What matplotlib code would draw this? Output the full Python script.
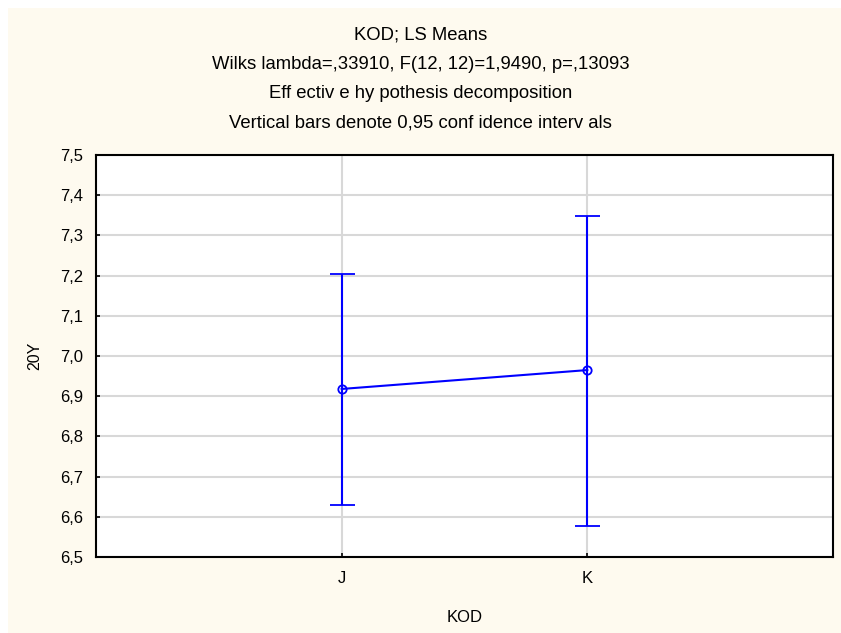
import matplotlib
matplotlib.use("Agg")
import matplotlib.pyplot as plt
from matplotlib.patches import Rectangle

# data
groups = ["J", "K"]
means = [6.918, 6.965]
ci_low = [6.629, 6.578]
ci_high = [7.205, 7.348]
yticks = [6.5, 6.6, 6.7, 6.8, 6.9, 7.0, 7.1, 7.2, 7.3, 7.4, 7.5]

titles = [
    "KOD; LS Means",
    "Wilks lambda=,33910, F(12, 12)=1,9490, p=,13093",
    "Eff ectiv e hy pothesis decomposition",
    "Vertical bars denote 0,95 conf idence interv als",
]

plt.rcParams["font.family"] = ["Liberation Sans", "DejaVu Sans"]
narrow = ["Liberation Sans Narrow", "Liberation Sans", "DejaVu Sans"]

fig = plt.figure(figsize=(8.41, 6.33), dpi=100)
fig.patch.set_facecolor("white")
fig.patches.append(Rectangle((8 / 841, 0), 1, 1 - 8 / 633, transform=fig.transFigure,
                             facecolor="#fefaef", edgecolor="none", zorder=-10))

ax = fig.add_axes([96 / 841, 1 - 557 / 633, 737 / 841, 402 / 633])
ax.set_facecolor("white")

xs = [1, 2]
err = [[m - lo for m, lo in zip(means, ci_low)], [hi - m for m, hi in zip(means, ci_high)]]
ax.errorbar(xs, means, yerr=err, color="#0000ff", lw=1.5, capsize=9, capthick=1.5,
            marker="o", markersize=6, markerfacecolor="none", markeredgewidth=1.3, zorder=3)

ax.set_xlim(0, 3)
ax.set_ylim(6.5, 7.5)
ax.set_xticks(xs)
ax.set_xticklabels(groups, fontsize=12)
ax.set_yticks(yticks)
ax.set_yticklabels([f"{v:.1f}".replace(".", ",") for v in yticks], family=narrow, fontsize=12)
ax.grid(True, color="#d8d8d8", lw=1.5)
ax.set_axisbelow(True)
ax.tick_params(direction="in", length=3, width=1.2, colors="black")
ax.tick_params(axis="y", pad=9)
ax.tick_params(axis="x", pad=10)
for s in ax.spines.values():
    s.set_linewidth(1.5)

ax.set_xlabel("KOD", fontsize=12, labelpad=17)
ax.set_ylabel("20Y", fontsize=11.5, labelpad=13)

for i, t in enumerate(titles):
    fig.text(0.5, 1 - (35.5 + 29 * i) / 633, t, ha="center", va="center", fontsize=13.3)

fig.savefig("out.png", dpi=100)
